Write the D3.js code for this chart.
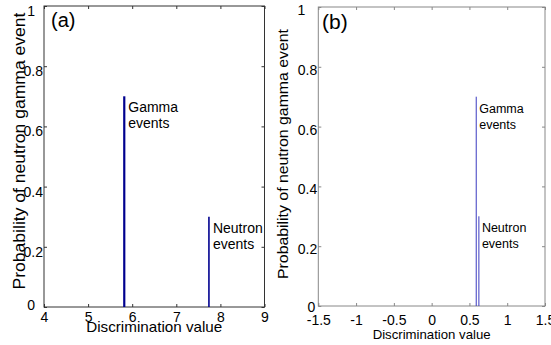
<!DOCTYPE html>
<html>
<head>
<meta charset="utf-8">
<script src="https://cdn.jsdelivr.net/npm/d3@7"></script>
<style>
  body { margin: 0; background: #fff; }
  text { font-family: "Liberation Sans", Arial, sans-serif; fill: #000; }
</style>
</head>
<body>
<div id="chart"></div>
<script>
var eventNames = ["Gamma", "Neutron"];
var discA = [5.82, 7.74];
var probA = [0.70, 0.30];
var discB = [0.59, 0.625];
var probB = [0.70, 0.30];
var xTicksA = [4, 5, 6, 7, 8, 9];
var xTicksB = [-1.5, -1, -0.5, 0, 0.5, 1, 1.5];
var yTicks = [0, 0.2, 0.4, 0.6, 0.8, 1];

var svg = d3.select("#chart").append("svg")
    .attr("width", 551)
    .attr("height", 345);

// one panel = one axes box
function drawPanel(p) {
  var x = d3.scaleLinear().domain([p.xTicks[0], p.xTicks[p.xTicks.length - 1]]).range([p.left, p.right]);
  var y = d3.scaleLinear().domain([0, 1]).range([p.bottom, p.top]);
  var g = svg.append("g");

  // bottom axis with labels, ticks pointing inward
  var bx = g.append("g")
      .attr("transform", "translate(0," + p.bottom + ")")
      .call(d3.axisBottom(x).tickValues(p.xTicks).tickSize(-3).tickSizeOuter(0)
        .tickPadding(p.xPad).tickFormat(function(d) { return String(d); }));
  bx.selectAll("text").style("font-size", "14px");

  // top axis, ticks only
  g.append("g")
      .attr("transform", "translate(0," + p.top + ")")
      .call(d3.axisTop(x).tickValues(p.xTicks).tickSize(-3).tickSizeOuter(0).tickFormat(""));

  // left axis with labels
  var ly = g.append("g")
      .attr("transform", "translate(" + p.left + ",0)")
      .call(d3.axisLeft(y).tickValues(yTicks).tickSize(-3).tickSizeOuter(0)
        .tickPadding(1).tickFormat(function(d) { return String(d); }));
  ly.selectAll("text")
      .style("font-size", "14px")
      .attr("y", function(d) { return d === 0 ? p.zeroOff : p.yLabOff; })
      .attr("x", function(d) {
        if (d === 1) return p.oneShift;
        if (d === 0) return p.zeroShift;
        return -1;
      });

  // right axis, ticks only
  g.append("g")
      .attr("transform", "translate(" + p.right + ",0)")
      .call(d3.axisRight(y).tickValues(yTicks).tickSize(-3).tickSizeOuter(0).tickFormat(""));

  g.selectAll(".domain").remove();
  g.selectAll(".tick line").attr("stroke", p.axisColor);

  g.append("rect")
      .attr("x", p.left).attr("y", p.top)
      .attr("width", p.right - p.left).attr("height", p.bottom - p.top)
      .attr("fill", "none").attr("stroke", p.axisColor).attr("stroke-width", 1);

  // stems
  g.selectAll(".stem")
      .data(p.disc)
      .enter().append("line")
      .attr("class", "stem")
      .attr("x1", function(d) { return x(d); })
      .attr("x2", function(d) { return x(d); })
      .attr("y1", y(0))
      .attr("y2", function(d, i) { return y(p.prob[i]); })
      .attr("stroke", p.lineColor)
      .attr("stroke-width", function(d, i) { return p.lineWidth[i]; });

  // stem annotations
  var ann = g.selectAll(".ann")
      .data(p.disc)
      .enter().append("text")
      .attr("class", "ann")
      .style("font-size", p.annSize + "px")
      .attr("x", function(d) { return x(d) + p.annDx; })
      .attr("y", function(d, i) { return y(p.prob[i]) + 16; });
  ann.append("tspan").text(function(d, i) { return eventNames[i]; });
  ann.append("tspan")
      .attr("x", function(d) { return x(d) + p.annDx; })
      .attr("dy", 16)
      .text("events");

  // panel tag
  g.append("text")
      .attr("x", p.tagX).attr("y", p.tagY)
      .style("font-size", p.tagSize + "px")
      .text(p.tag);

  // axis titles
  g.append("text")
      .attr("x", (p.left + p.right) / 2)
      .attr("y", p.xTitleY)
      .attr("text-anchor", "middle")
      .attr("textLength", p.xTitleLen)
      .attr("lengthAdjust", "spacingAndGlyphs")
      .style("font-size", p.xTitleSize + "px")
      .text("Discrimination value");

  g.append("text")
      .attr("transform", "translate(" + p.yTitleX + "," + p.yTitleY + ") rotate(-90)")
      .attr("text-anchor", "middle")
      .attr("textLength", p.yTitleLen)
      .attr("lengthAdjust", "spacingAndGlyphs")
      .style("font-size", p.yTitleSize + "px")
      .text("Probability of neutron gamma event");
}

drawPanel({
  tag: "(a)", xTicks: xTicksA, disc: discA, prob: probA,
  left: 44, right: 264.5, top: 6, bottom: 307,
  axisColor: "#333", lineColor: "#00008f", lineWidth: [2.2, 1.6],
  xPad: 5, yLabOff: 5, zeroOff: -2, oneShift: -9, zeroShift: -9,
  annSize: 14, annDx: 4,
  tagX: 51, tagY: 27, tagSize: 20,
  xTitleY: 332, xTitleLen: 136, xTitleSize: 15,
  yTitleX: 25, yTitleY: 151, yTitleLen: 277, yTitleSize: 16
});

drawPanel({
  tag: "(b)", xTicks: xTicksB, disc: discB, prob: probB,
  left: 318.3, right: 545, top: 7, bottom: 306,
  axisColor: "#888", lineColor: "#3a3ac0", lineWidth: [1, 1],
  xPad: 9, yLabOff: 3, zeroOff: 1, oneShift: -13, zeroShift: -3,
  annSize: 12.5, annDx: 3,
  tagX: 322, tagY: 29, tagSize: 21,
  xTitleY: 339, xTitleLen: 118, xTitleSize: 13,
  yTitleX: 288, yTitleY: 154, yTitleLen: 250, yTitleSize: 15
});
</script>
</body>
</html>
